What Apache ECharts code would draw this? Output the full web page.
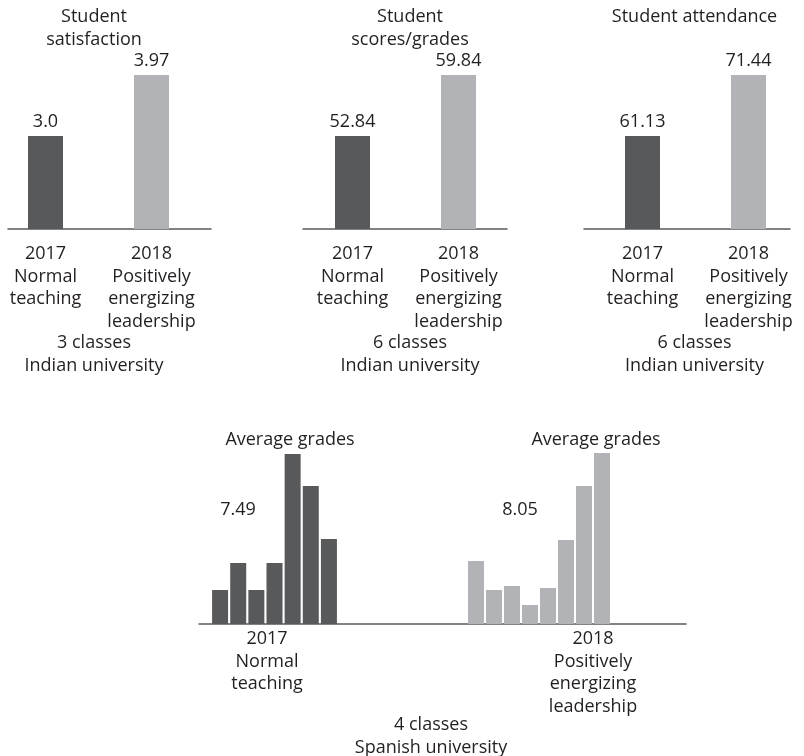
<!DOCTYPE html>
<html>
<head>
<meta charset="utf-8">
<script src="https://cdn.jsdelivr.net/npm/echarts@6/dist/echarts.min.js"></script>
<style>html,body{margin:0;padding:0;background:#fff;}#c{width:804px;height:756px;}</style>
</head>
<body>
<div id="c"></div>
<script>
// ---- data ----
const topTitles = ['Student\nsatisfaction', 'Student\nscores/grades', 'Student attendance'];
const topCategories = ['2017\nNormal\nteaching', '2018\nPositively\nenergizing\nleadership'];
const topValues = [[3.0, 3.97], [52.84, 59.84], [61.13, 71.44]];
const topValueLabels = [['3.0', '3.97'], ['52.84', '59.84'], ['61.13', '71.44']];
const topCaptions = ['3 classes\nIndian university', '6 classes\nIndian university', '6 classes\nIndian university'];
const topAxisMin = [1.52, 42.17, 45.41];
const topAxisMax = [4.527, 63.856, 77.356];

const histTitles = ['Average grades', 'Average grades'];
const histMeans = ['7.49', '8.05'];
const hist2017 = [34, 61, 34, 61, 170, 138, 85];
const hist2018 = [63, 34, 38, 19, 36, 84, 138, 171];
const histCategories = ['2017\nNormal\nteaching', '2018\nPositively\nenergizing\nleadership'];
const bottomCaption = '4 classes\nSpanish university';

// ---- styles / layout ----
const DARK = '#58595b', LIGHT = '#b1b3b6', TEXT = '#231f20', AXIS = '#58595b';
const FONT = 'Open Sans';
const FS = 18, LH = 22.5;
const txt = {fontSize: FS, lineHeight: LH, color: TEXT, fontFamily: FONT, fontWeight: 'normal'};
const topGeom = [
  {barCenter: 45.5, axisLeft: 8, axisWidth: 203, textX: 94},
  {barCenter: 352.5, axisLeft: 303, axisWidth: 204, textX: 410},
  {barCenter: 642.5, axisLeft: 584, axisWidth: 206, textX: 694.5}
];
const BAR_STEP = 106;
const TOP_GRID_TOP = 40, TOP_GRID_H = 189;
const BOT_GRID_TOP = 444, BOT_GRID_H = 180;

const grid = [], xAxis = [], yAxis = [], series = [], title = [];

function addTitle(text, x, top) {
  title.push({text: text, left: x, top: top, textAlign: 'center', textStyle: Object.assign({}, txt), padding: 0});
}

topValues.forEach((vals, i) => {
  const g = topGeom[i];
  // bar grid
  const gi = grid.length;
  grid.push({left: g.barCenter, width: BAR_STEP, top: TOP_GRID_TOP, height: TOP_GRID_H});
  xAxis.push({type: 'category', gridIndex: gi, data: topCategories, boundaryGap: false,
    axisLine: {show: false}, axisTick: {show: false},
    axisLabel: Object.assign({margin: 14, interval: 0}, txt)});
  yAxis.push({type: 'value', gridIndex: gi, min: topAxisMin[i], max: topAxisMax[i], show: false});
  series.push({type: 'bar', xAxisIndex: gi, yAxisIndex: gi, barWidth: 35, data: vals,
    itemStyle: {color: p => p.dataIndex === 0 ? DARK : LIGHT},
    label: Object.assign({show: true, position: 'top', distance: 3, formatter: p => topValueLabels[i][p.dataIndex]}, txt)});
  // baseline grid
  const bi = grid.length;
  grid.push({left: g.axisLeft, width: g.axisWidth, top: TOP_GRID_TOP, height: TOP_GRID_H});
  xAxis.push({type: 'category', gridIndex: bi, data: [''], axisLine: {show: true, lineStyle: {color: AXIS, width: 1.5}},
    axisTick: {show: false}, axisLabel: {show: false}});
  yAxis.push({type: 'value', gridIndex: bi, show: false});
  addTitle(topTitles[i], g.textX, 6);
  addTitle(topCaptions[i], g.textX, 332);
});

// bottom histograms
const hists = [hist2017, hist2018];
const histGeom = [{left: 211, width: 127, color: DARK, titleX: 290, meanX: 238, labelX: 267},
                  {left: 467, width: 144, color: LIGHT, titleX: 596, meanX: 520, labelX: 593}];
hists.forEach((h, i) => {
  const g = histGeom[i];
  const gi = grid.length;
  grid.push({left: g.left, width: g.width, top: BOT_GRID_TOP, height: BOT_GRID_H});
  xAxis.push({type: 'category', gridIndex: gi, data: h.map((_, k) => String(k + 1)), axisLine: {show: false},
    axisTick: {show: false}, axisLabel: {show: false}});
  yAxis.push({type: 'value', gridIndex: gi, min: 0, max: 180, show: false});
  series.push({type: 'bar', xAxisIndex: gi, yAxisIndex: gi, barWidth: 16, data: h, itemStyle: {color: g.color}});
  addTitle(histTitles[i], g.titleX, 429);
  addTitle(histMeans[i], g.meanX, 499);
  addTitle(histCategories[i], g.labelX, 628);
});
{
  const bi = grid.length;
  grid.push({left: 199, width: 487, top: BOT_GRID_TOP, height: BOT_GRID_H});
  xAxis.push({type: 'category', gridIndex: bi, data: [''], axisLine: {show: true, lineStyle: {color: AXIS, width: 1.5}},
    axisTick: {show: false}, axisLabel: {show: false}});
  yAxis.push({type: 'value', gridIndex: bi, show: false});
}
addTitle(bottomCaption, 431, 714);

const chart = echarts.init(document.getElementById('c'), null, {renderer: 'canvas'});
chart.setOption({animation: false, backgroundColor: '#fff', title, grid, xAxis, yAxis, series});
</script>
</body>
</html>
